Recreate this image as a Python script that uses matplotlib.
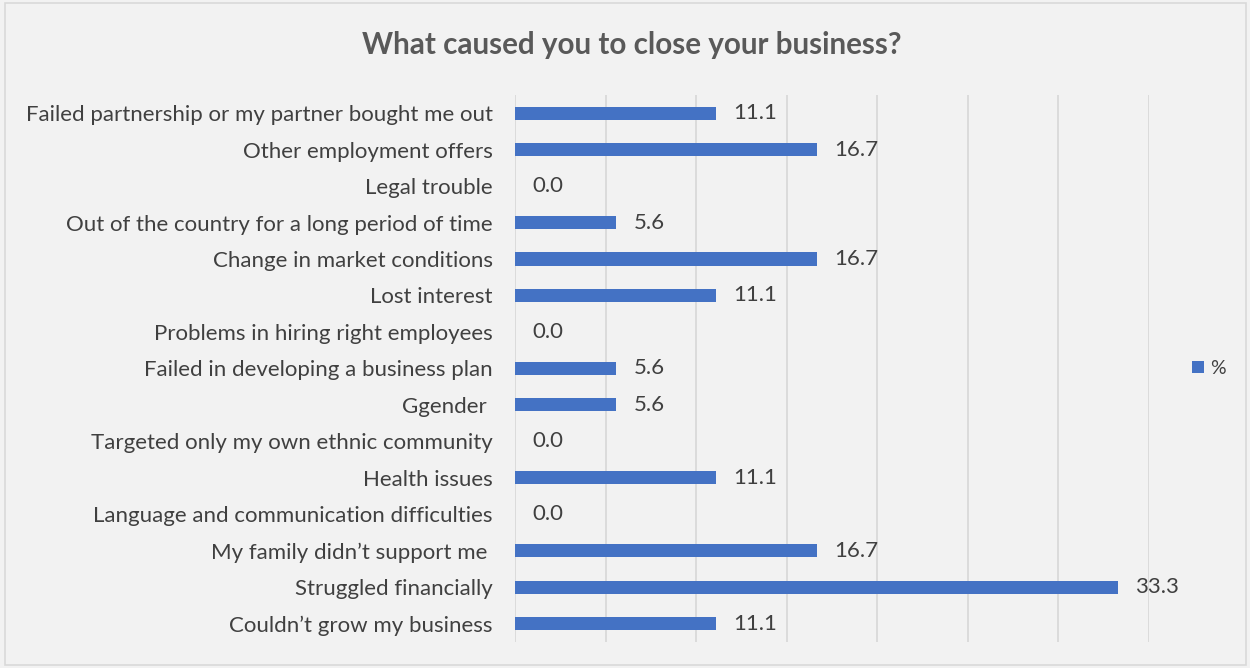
import matplotlib
matplotlib.use("Agg")
import matplotlib.pyplot as plt
from matplotlib.patches import Rectangle

categories = [
    "Failed partnership or my partner bought me out",
    "Other employment offers",
    "Legal trouble",
    "Out of the country for a long period of time",
    "Change in market conditions",
    "Lost interest",
    "Problems in hiring right employees",
    "Failed in developing a business plan",
    "Ggender ",
    "Targeted only my own ethnic community",
    "Health issues",
    "Language and communication difficulties",
    "My family didn\u2019t support me ",
    "Struggled financially",
    "Couldn\u2019t grow my business",
]
values = [11.1, 16.7, 0.0, 5.6, 16.7, 11.1, 0.0, 5.6, 5.6, 0.0, 11.1, 0.0, 16.7, 33.3, 11.1]
series_name = "%"
title = "What caused you to close your business?"

bar_color = "#4472C4"
bg = "#F2F2F2"
text_color = "#404040"

plt.rcParams['font.family'] = ['Lato', 'DejaVu Sans']

fig = plt.figure(figsize=(12.5, 6.68), dpi=100, facecolor=bg)
fig.patches.append(Rectangle((0.004, 0.005), 0.993, 0.99, transform=fig.transFigure,
                             fill=False, edgecolor="#D9D9D9", linewidth=1.2))
ax = fig.add_axes([0.412, 0.039, 0.507, 0.819])
ax.set_facecolor(bg)

n = len(categories)
ypos = list(range(n))
ax.barh(ypos, values, height=0.36, color=bar_color, zorder=3)
ax.set_ylim(n - 0.5, -0.5)
ax.set_xlim(0, 35)
ax.set_xticks([0, 5, 10, 15, 20, 25, 30, 35])
ax.xaxis.grid(True, color="#D9D9D9", linewidth=1.3, zorder=0)
ax.tick_params(axis='x', bottom=False, labelbottom=False)
ax.tick_params(axis='y', left=False, pad=12.5, labelsize=16, labelcolor=text_color)
ax.set_yticks(ypos)
ax.set_yticklabels(categories)
for s in ax.spines.values():
    s.set_visible(False)

for y, v in zip(ypos, values):
    ax.annotate(f"{v:.1f}", xy=(v, y), xytext=(17, 0), textcoords="offset pixels",
                va="center", ha="left", fontsize=16, color=text_color)

fig.text(0.505, 0.932, title, ha="center", va="center", fontsize=21.3, fontweight="bold", color="#595959")

fig.patches.append(Rectangle((0.9535, 0.441), 0.0095, 0.018, transform=fig.transFigure,
                             facecolor=bar_color, edgecolor="none"))
fig.text(0.968, 0.449, series_name, ha="left", va="center", fontsize=14, color=text_color)

fig.savefig("out.png", dpi=100, facecolor=bg)
